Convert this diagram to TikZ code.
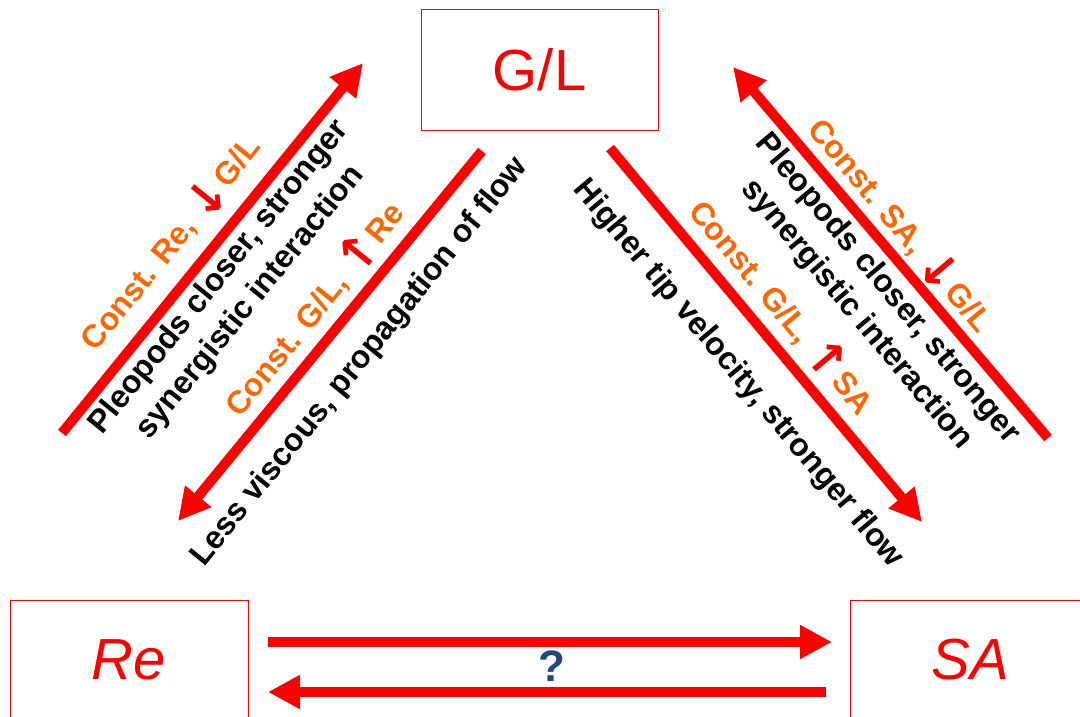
\documentclass[tikz,border=0pt]{standalone}
\usepackage{fontspec}
\setmainfont{Liberation Sans}
\newfontfamily\arrowfont{DejaVu Sans}
\usetikzlibrary{arrows.meta}
\definecolor{orng}{RGB}{255,102,0}
\definecolor{qblue}{RGB}{31,73,125}
\newcommand{\dnarr}{{\color{red}\arrowfont\fontsize{48}{48}\selectfont\raisebox{-6pt}{↓}}}
\newcommand{\uparr}{{\color{red}\arrowfont\fontsize{48}{48}\selectfont\raisebox{-4pt}{↑}}}
\begin{document}
\begin{tikzpicture}[x=1pt,y=-1pt,
  bigarrow/.style={red, line width=10pt, -{Triangle[length=32pt,width=32pt]}},
  box/.style={draw=red, line width=1pt, inner sep=0pt},
  boxtext/.style={box, text=red, font=\fontsize{58}{60}\selectfont},
  lbl/.style={font=\bfseries\fontsize{32}{40}\selectfont, align=center, inner sep=0pt},
  olbl/.style={lbl, text=orng},
  klbl/.style={lbl, text=black}]
\useasboundingbox (0,0) rectangle (1080,717);
\clip (0,0) rectangle (1080,717);

% boxes
\node[boxtext, minimum width=237pt, minimum height=120pt] (GL) at (539.5,70) {G/L};
\node[boxtext, minimum width=238pt, minimum height=120pt, font=\itshape\fontsize{58}{60}\selectfont] (Re) at (129,660) {Re};
\node[boxtext, minimum width=240pt, minimum height=120pt, font=\itshape\fontsize{58}{60}\selectfont] (SA) at (970,660) {SA};

% arrow end points
\coordinate (a1s) at (62,433);  \coordinate (a1e) at (363,63);
\coordinate (a2s) at (482,151); \coordinate (a2e) at (178,521);
\coordinate (a3s) at (610,148); \coordinate (a3e) at (922,522);
\coordinate (a4s) at (1048,438); \coordinate (a4e) at (733,67);
\coordinate (b1s) at (268,642); \coordinate (b1e) at (832,642);
\coordinate (b2s) at (826,692); \coordinate (b2e) at (268,692);

\draw[bigarrow] (a1s) -- (a1e);
\draw[bigarrow] (a2s) -- (a2e);
\draw[bigarrow] (a3s) -- (a3e);
\draw[bigarrow] (a4s) -- (a4e);
\draw[bigarrow] (b1s) -- (b1e);
\draw[bigarrow] (b2s) -- (b2e);

% left labels
\node[olbl, rotate=51] (o1) at (170,243) {Const. Re, \dnarr G/L};
\node[klbl, rotate=51] (k1) at (235,290) {Pleopods closer, stronger\\synergistic interaction};
\node[olbl, rotate=51] (o2) at (313,308) {Const. G/L, \uparr Re};
\node[klbl, rotate=51] (k2) at (360,362) {Less viscous, propagation of flow};

% right labels
\node[olbl, rotate=-50] (o3) at (901,225) {Const. SA, \dnarr G/L};
\node[klbl, rotate=-50] (k3) at (872,302) {Pleopods closer, stronger\\synergistic interaction};
\node[olbl, rotate=-50] (o4) at (783,306) {Const. G/L, \uparr SA};
\node[klbl, rotate=-50] (k4) at (738,374) {Higher tip velocity, stronger flow};

% question mark
\node[font=\bfseries\fontsize{44}{44}\selectfont, text=qblue, inner sep=0pt] (q) at (552,666) {?};
\end{tikzpicture}
\end{document}
